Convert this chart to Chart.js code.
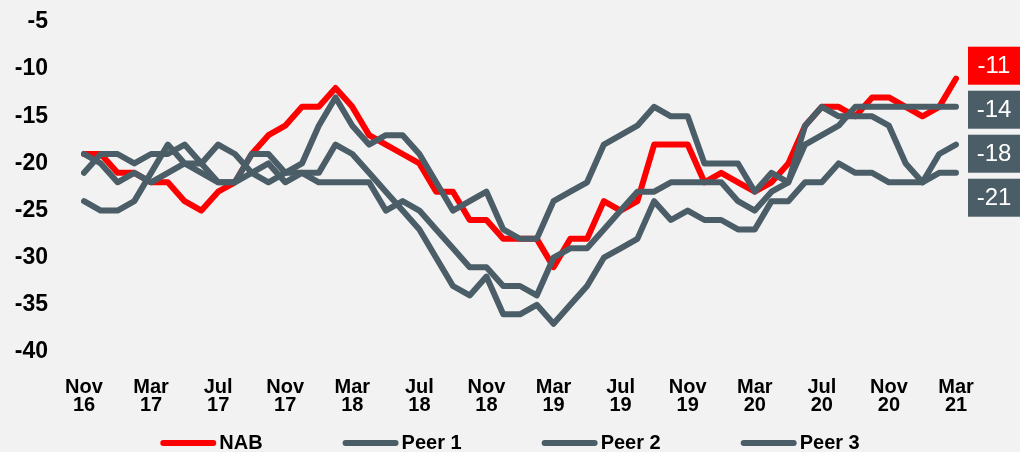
<!DOCTYPE html>
<html>
<head>
<meta charset="utf-8">
<script src="https://cdn.jsdelivr.net/npm/chart.js@4.4.1/dist/chart.umd.min.js"></script>
<style>
  html, body { margin: 0; padding: 0; background: #f2f2f2; }
  #wrap { width: 1020px; height: 452px; }
</style>
</head>
<body>
<div id="wrap"><canvas id="chart" width="1020" height="452"></canvas></div>
<script>
// Monthly categories, Nov 16 to Mar 21
const months = [
  'Nov 16', 'Dec 16',
  'Jan 17', 'Feb 17', 'Mar 17', 'Apr 17', 'May 17', 'Jun 17', 'Jul 17', 'Aug 17', 'Sep 17', 'Oct 17', 'Nov 17', 'Dec 17',
  'Jan 18', 'Feb 18', 'Mar 18', 'Apr 18', 'May 18', 'Jun 18', 'Jul 18', 'Aug 18', 'Sep 18', 'Oct 18', 'Nov 18', 'Dec 18',
  'Jan 19', 'Feb 19', 'Mar 19', 'Apr 19', 'May 19', 'Jun 19', 'Jul 19', 'Aug 19', 'Sep 19', 'Oct 19', 'Nov 19', 'Dec 19',
  'Jan 20', 'Feb 20', 'Mar 20', 'Apr 20', 'May 20', 'Jun 20', 'Jul 20', 'Aug 20', 'Sep 20', 'Oct 20', 'Nov 20', 'Dec 20',
  'Jan 21', 'Feb 21', 'Mar 21'
];

// Only these months get a label on the x axis
const tickMonths = ['Nov 16', 'Mar 17', 'Jul 17', 'Nov 17', 'Mar 18', 'Jul 18', 'Nov 18',
  'Mar 19', 'Jul 19', 'Nov 19', 'Mar 20', 'Jul 20', 'Nov 20', 'Mar 21'];

const yTicks = [-5, -10, -15, -20, -25, -30, -35, -40];

// Series values
const nab = [
  -19, -19, -21, -21, -22, -22, -24, -25, -23, -22, -19, -17, -16, -14, -14,
  -12, -14, -17, -18, -19, -20, -23, -23, -26, -26, -28, -28, -28, -31, -28,
  -28, -24, -25, -24, -18, -18, -18, -22, -21, -22, -23, -22, -20, -16, -14,
  -14, -15, -13, -13, -14, -15, -14, -11
];
const peer1 = [
  -21, -19, -19, -20, -19, -19, -18, -20, -18, -19, -21, -22, -21, -20, -16,
  -13, -16, -18, -17, -17, -19, -22, -25, -24, -23, -27, -28, -28, -24, -23,
  -22, -18, -17, -16, -14, -15, -15, -20, -20, -20, -23, -21, -22, -18, -17,
  -16, -14, -14, -14, -14, -14, -14, -14
];
const peer2 = [
  -19, -20, -22, -21, -22, -21, -20, -21, -22, -22, -19, -19, -21, -21, -22,
  -22, -22, -22, -25, -24, -25, -27, -29, -31, -31, -33, -33, -34, -30, -29,
  -29, -27, -25, -23, -23, -22, -22, -22, -22, -24, -25, -23, -22, -16, -14,
  -15, -15, -15, -16, -20, -22, -19, -18
];
const peer3 = [
  -24, -25, -25, -24, -21, -18, -20, -20, -22, -22, -21, -20, -22, -21, -21,
  -18, -19, -21, -23, -25, -27, -30, -33, -34, -32, -36, -36, -35, -37, -35,
  -33, -30, -29, -28, -24, -26, -25, -26, -26, -27, -27, -24, -24, -22, -22,
  -20, -21, -21, -22, -22, -22, -21, -21
];

const RED = '#ff0000';
const GREY = '#4b5d67';
const FONT = "'Liberation Sans', Arial, sans-serif";

function lineSet(label, data, color, order) {
  return {
    label: label,
    data: data,
    borderColor: color,
    backgroundColor: color,
    borderWidth: 6,
    borderCapStyle: 'round',
    borderJoinStyle: 'round',
    pointRadius: 0,
    pointHoverRadius: 0,
    tension: 0,
    fill: false,
    order: order
  };
}

// Coloured value boxes at the right end of each line
const endLabels = {
  id: 'endLabels',
  afterDatasetsDraw(chart) {
    const { ctx, chartArea } = chart;
    const yScale = chart.scales.y;
    const boxH = 38;
    const step = 44;
    const items = chart.data.datasets.map(ds => {
      const v = ds.data[ds.data.length - 1];
      return { v: v, y: yScale.getPixelForValue(v), color: ds.borderColor };
    }).sort((a, b) => a.y - b.y);
    // spread the boxes evenly around their mean so they do not overlap
    const mean = items.reduce((s, it) => s + it.y, 0) / items.length + 6;
    const x0 = chartArea.right + 12;
    const w = chart.width - x0;
    ctx.save();
    ctx.font = '24px ' + FONT;
    ctx.textAlign = 'center';
    ctx.textBaseline = 'middle';
    items.forEach((it, i) => {
      const cy = mean + (i - (items.length - 1) / 2) * step;
      ctx.fillStyle = it.color;
      ctx.fillRect(x0, cy - boxH / 2, w, boxH);
      ctx.fillStyle = '#ffffff';
      ctx.fillText(String(it.v), x0 + w / 2, cy + 1);
    });
    ctx.restore();
  }
};

// Legend drawn by hand so the spacing matches the original
const bottomLegend = {
  id: 'bottomLegend',
  afterDraw(chart) {
    const { ctx } = chart;
    const swatch = 56, textGap = 3, itemGap = 80, cy = 443;
    ctx.save();
    ctx.font = 'bold 20px ' + FONT;
    const items = chart.data.datasets.map(ds => ({
      text: ds.label, color: ds.borderColor, tw: ctx.measureText(ds.label).width
    }));
    const total = items.reduce((s, it) => s + swatch + textGap + it.tw, 0) + itemGap * (items.length - 1);
    let x = (chart.width - total) / 2;
    items.forEach(it => {
      ctx.strokeStyle = it.color;
      ctx.lineWidth = 6;
      ctx.lineCap = 'round';
      ctx.beginPath();
      ctx.moveTo(x + 3, cy);
      ctx.lineTo(x + swatch - 3, cy);
      ctx.stroke();
      ctx.fillStyle = '#000000';
      ctx.textAlign = 'left';
      ctx.textBaseline = 'middle';
      ctx.fillText(it.text, x + swatch + textGap, cy);
      x += swatch + textGap + it.tw + itemGap;
    });
    ctx.restore();
  }
};

const bgPlugin = {
  id: 'bg',
  beforeDraw(chart) {
    const { ctx } = chart;
    ctx.save();
    ctx.fillStyle = '#f2f2f2';
    ctx.fillRect(0, 0, chart.width, chart.height);
    ctx.restore();
  }
};

const ctx = document.getElementById('chart');
new Chart(ctx, {
  type: 'line',
  data: {
    labels: months,
    datasets: [
      lineSet('NAB', nab, RED, 10),
      lineSet('Peer 1', peer1, GREY, 3),
      lineSet('Peer 2', peer2, GREY, 2),
      lineSet('Peer 3', peer3, GREY, 1)
    ]
  },
  options: {
    responsive: false,
    animation: false,
    events: [],
    layout: { padding: { left: 0, right: 64, top: 22, bottom: 0 } },
    plugins: {
      legend: { display: false },
      tooltip: { enabled: false }
    },
    scales: {
      x: {
        grid: { display: false, drawTicks: false },
        border: { display: false },
        ticks: {
          autoSkip: false,
          maxRotation: 0,
          minRotation: 0,
          padding: 27,
          color: '#000000',
          font: { family: FONT, size: 20, weight: 'bold', lineHeight: 0.875 },
          callback: function (value) {
            const label = this.getLabelForValue(value);
            return tickMonths.includes(label) ? label.split(' ') : null;
          }
        },
        afterFit: scale => { scale.height = 100; }
      },
      y: {
        min: -40,
        max: -5,
        grid: { display: false, drawTicks: false },
        border: { display: false },
        afterBuildTicks: scale => { scale.ticks = yTicks.map(v => ({ value: v })); },
        ticks: {
          padding: 36,
          color: '#000000',
          font: { family: FONT, size: 23, weight: 'bold' }
        },
        afterFit: scale => {
          scale.width = 84;
          // the tick padding is meant for the horizontal gap only
          scale.paddingTop = 0;
          scale.paddingBottom = 0;
        }
      }
    }
  },
  plugins: [bgPlugin, endLabels, bottomLegend]
});
</script>
</body>
</html>
